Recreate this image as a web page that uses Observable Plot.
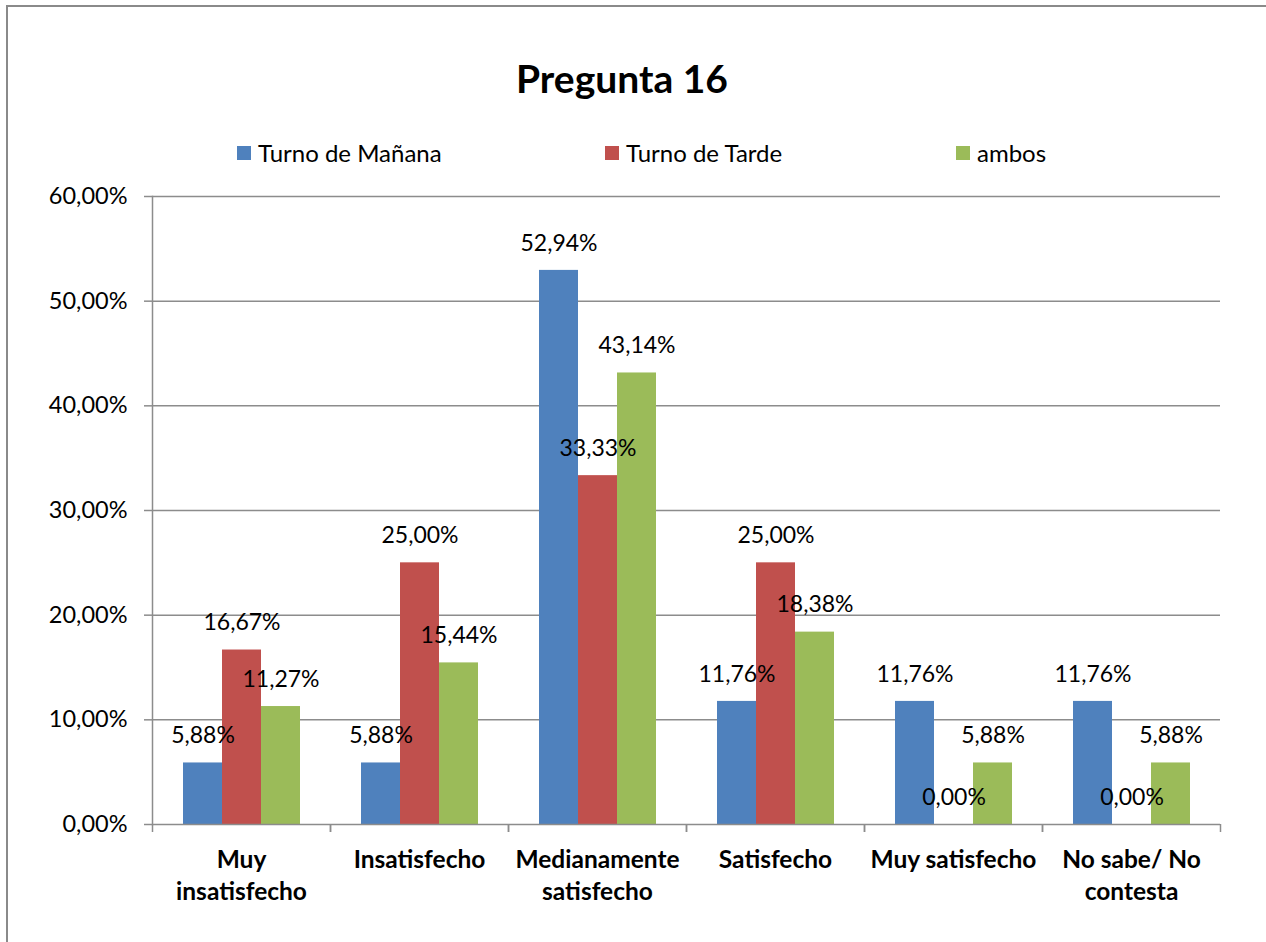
<!DOCTYPE html>
<html><head><meta charset="utf-8">
<script src="https://cdn.jsdelivr.net/npm/d3@7"></script>
<script src="https://cdn.jsdelivr.net/npm/@observablehq/plot@0.6"></script>
<style>
body{margin:0;background:#fff;font-family:Lato, sans-serif;color:#000;}
#wrap{position:absolute;left:0;top:0;width:1266px;height:942px;overflow:hidden;background:#fff;}
#chart{position:absolute;left:0;top:0;}
#frame{position:absolute;left:6px;top:5px;width:1400px;height:1100px;border-left:2px solid #8a8a8a;border-top:2px solid #8a8a8a;z-index:2;pointer-events:none;}
#title{position:absolute;left:0;width:1244px;top:54px;text-align:center;font-weight:700;font-size:39px;line-height:48px;}
.leg{position:absolute;top:139px;font-size:24px;line-height:28px;display:flex;align-items:center;white-space:nowrap;}
.sw{width:14px;height:14px;margin-right:7px;}
</style></head><body>
<div id="wrap"><div id="chart"></div><div id="title">Pregunta 16</div><div id="legend"></div><div id="frame"></div></div>
<script>
const categories = ["Muy insatisfecho", "Insatisfecho", "Medianamente satisfecho", "Satisfecho", "Muy satisfecho", "No sabe/ No contesta"];
const categoryLabels = ["Muy\ninsatisfecho", "Insatisfecho", "Medianamente\nsatisfecho", "Satisfecho", "Muy satisfecho", "No sabe/ No\ncontesta"];
const series = ["Turno de Mañana", "Turno de Tarde", "ambos"];
const colors = ["#4F81BD", "#C0504D", "#9BBB59"];
const manana = [5.88, 5.88, 52.94, 11.76, 11.76, 11.76];
const tarde = [16.67, 25.00, 33.33, 25.00, 0.00, 0.00];
const ambos = [11.27, 15.44, 43.14, 18.38, 5.88, 5.88];
const yTicks = [0, 10, 20, 30, 40, 50, 60];
const legendLeft = [237, 605, 956];

const seriesValues = [manana, tarde, ambos];
const data = categories.flatMap((c, i) => series.map((s, k) => ({cat: c, series: s, value: seriesValues[k][i]})));
const fmt = v => v.toFixed(2).replace(".", ",") + "%";
const labelOf = new Map(categories.map((c, i) => [c, categoryLabels[i]]));
const axisGray = "#8c8c8c";

const plot = Plot.plot({
  width: 1266, height: 942,
  marginLeft: 152, marginRight: 46, marginTop: 196, marginBottom: 118,
  style: {background: "transparent", fontFamily: "Lato, sans-serif", fontSize: "20px", color: "#000"},
  fx: {domain: categories, padding: 0, label: null},
  x: {domain: series, paddingInner: 0, paddingOuter: 0.75, axis: null},
  y: {domain: [0, 60], axis: null},
  color: {domain: series, range: colors},
  marks: [
    Plot.gridY(yTicks.slice(1), {stroke: axisGray, strokeOpacity: 1, strokeWidth: 1.5}),
    Plot.axisY(yTicks, {tickSize: 8, tickPadding: 17, tickFormat: fmt, fontSize: 23.5, stroke: axisGray, strokeWidth: 1.5, label: null}),
    Plot.barY(data, {fx: "cat", x: "series", y: "value", fill: "series"}),
    Plot.ruleY([0], {stroke: axisGray, strokeWidth: 1.5}),
    Plot.frame({anchor: "left", facetAnchor: "left", stroke: axisGray, strokeWidth: 1.5}),
    Plot.axisFx({anchor: "bottom", tickSize: 8, tickFormat: () => "", dx: -89, stroke: axisGray, strokeWidth: 1.5, label: null}),
    Plot.axisFx([categories[categories.length - 1]], {anchor: "bottom", tickSize: 8, tickFormat: () => "", dx: 89, stroke: axisGray, strokeWidth: 1.5, label: null}),
    Plot.axisFx({anchor: "bottom", tickSize: 0, tickPadding: 21, fontSize: 24.5, fontWeight: "bold", lineHeight: 1.3, tickFormat: c => labelOf.get(c), label: null}),
    Plot.text(data, {fx: "cat", x: "series", y: "value", text: d => fmt(d.value), dy: -27, fontSize: 23, fill: "#000"})
  ]
});
document.getElementById("chart").appendChild(plot);

const legend = document.getElementById("legend");
series.forEach((s, k) => {
  const item = document.createElement("div");
  item.className = "leg";
  item.style.left = legendLeft[k] + "px";
  const sw = document.createElement("span");
  sw.className = "sw";
  sw.style.background = colors[k];
  item.appendChild(sw);
  item.appendChild(document.createTextNode(s));
  legend.appendChild(item);
});
</script>
</body></html>
